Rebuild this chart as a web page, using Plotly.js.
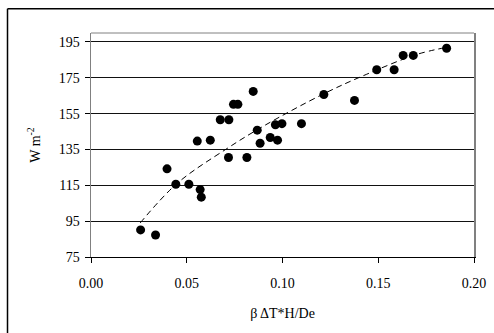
<!DOCTYPE html>
<html>
<head>
<meta charset="utf-8">
<script src="https://cdn.plot.ly/plotly-3.0.1.min.js"></script>
<style>html,body{margin:0;padding:0;background:#fff;overflow:hidden;}#chart{width:494px;height:333px;}</style>
</head>
<body>
<div id="chart"></div>
<script>
// Observed points
const xData = [0.0259,0.0337,0.0397,0.0443,0.0511,0.0555,0.0570,0.0576,0.0623,0.0675,0.0720,0.0718,0.0744,0.0767,0.0814,0.0847,0.0868,0.0883,0.0936,0.0963,0.0974,0.0997,0.1099,0.1216,0.1376,0.1492,0.1583,0.1630,0.1683,0.1857];
const yData = [90.1,87.3,124.2,115.6,115.6,139.7,112.6,108.4,140.2,151.6,151.6,130.5,160.2,160.2,130.5,167.4,145.8,138.5,141.7,148.8,140.2,149.4,149.4,165.7,162.4,179.5,179.5,187.5,187.5,191.5];
// Trend line
const xTrend = [0.0257,0.0449,0.0710,0.0900,0.1214,0.1440,0.1700,0.1857];
const yTrend = [94.0,116.0,135.5,148.0,166.0,177.0,188.0,192.0];
const xTicks = [0, 0.05, 0.10, 0.15, 0.20];
const yTicks = [75, 95, 115, 135, 155, 175, 195];

const font = {family: '"Liberation Serif", "Times New Roman", serif', color: '#000', size: 14};

const traces = [
  {x: xTrend, y: yTrend, mode: 'lines', type: 'scatter', line: {color: '#000', width: 1, dash: '6px,4px', shape: 'spline'}, hoverinfo: 'skip'},
  {x: xData, y: yData, mode: 'markers', type: 'scatter', marker: {color: '#000', size: 9}}
];

const layout = {
  width: 494, height: 333,
  margin: {l: 90.7, r: 20, t: 33.3, b: 75.7},
  paper_bgcolor: '#fff', plot_bgcolor: '#fff',
  showlegend: false,
  font: font,
  xaxis: {
    range: [0, 0.2], tickvals: xTicks, ticktext: xTicks.map(v => v.toFixed(2)),
    showgrid: false, zeroline: false,
    showline: true, linecolor: '#000', linewidth: 1,
    ticks: 'outside', ticklen: 5, tickcolor: '#000', ticklabelstandoff: 8,
    title: {text: 'β ΔT*H/De', font: font, standoff: 18}
  },
  yaxis: {
    range: [75, 200], tickvals: yTicks,
    showgrid: true, gridcolor: '#111', gridwidth: 1, zeroline: false,
    showline: true, linecolor: '#808080', linewidth: 1.5, mirror: true,
    ticks: 'outside', ticklen: 5, tickcolor: '#000', ticklabelstandoff: 2,
    title: {text: 'W m<sup>-2</sup>', font: font, standoff: 15}
  },
  shapes: [
    {type: 'line', xref: 'paper', yref: 'paper', x0: 0, x1: 1, y0: 1, y1: 1, line: {color: '#808080', width: 1}},
    {type: 'line', xref: 'paper', yref: 'paper', x0: -0.218, x1: -0.218, y0: -0.5, y1: 1.108, line: {color: '#000', width: 1.5}, layer: 'above'},
    {type: 'line', xref: 'paper', yref: 'paper', x0: -0.218, x1: 1.2, y0: 1.108, y1: 1.108, line: {color: '#000', width: 1.5}, layer: 'above'}
  ]
};

Plotly.newPlot('chart', traces, layout, {staticPlot: true, displayModeBar: false});
</script>
</body>
</html>
